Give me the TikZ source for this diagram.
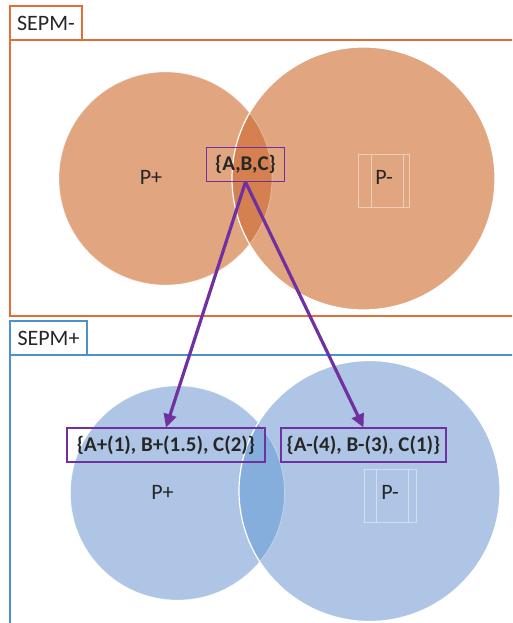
\documentclass[tikz,border=0pt]{standalone}
\usepackage{fontspec}
\setmainfont{Carlito}
\usetikzlibrary{arrows.meta}

\definecolor{sepmorange}{RGB}{226,110,55}
\definecolor{sepmblue}{RGB}{75,145,205}
\definecolor{peach}{RGB}{225,166,128}
\definecolor{peachdark}{RGB}{213,128,80}
\definecolor{skyblue}{RGB}{174,197,230}
\definecolor{skybluedark}{RGB}{133,174,220}
\definecolor{setpurple}{RGB}{112,48,160}
\definecolor{inkgray}{RGB}{38,38,38}

\tikzset{
  labeltext/.style={text=inkgray, font=\fontsize{16.5pt}{19pt}\selectfont, inner sep=0pt},
  tabbox/.style={labeltext, draw=#1, line width=0.8pt, minimum height=25.5pt, fill=white},
  setbox/.style={labeltext, font=\fontsize{15.7pt}{18pt}\selectfont\bfseries, draw=setpurple, line width=0.8pt, minimum height=25.5pt},
  setarrow/.style={draw=setpurple, line width=2.4pt, -{Triangle[length=10pt,width=9.5pt]}},
  ghostline/.style={draw=white, opacity=0.45, line width=0.6pt}
}

\begin{document}
\begin{tikzpicture}[x=0.75pt, y=-0.75pt]
\useasboundingbox (0,0) rectangle (512,623);
\clip (0,0) rectangle (512,623);

% SEPM- frame
\draw[sepmorange, line width=0.8pt] (10,40) rectangle (540,316);
\node[tabbox=sepmorange, minimum width=54pt] (tabminus) at (46,23) {SEPM-};

\fill[peach] (165.5,178.5) circle (106.5);
\fill[peach] (363.5,178.5) circle (131.5);
\begin{scope}
  \clip (165.5,178.5) circle (106.5);
  \fill[peachdark] (363.5,178.5) circle (131.5);
\end{scope}
\draw[white, line width=0.9pt] (363.5,178.5) circle (131.5);
\draw[white, opacity=0.35, line width=0.6pt] (165.5,178.5) circle (106.5);
\draw[ghostline] (358,154) rectangle (409,207) (371,154) -- (371,207) (403,154) -- (403,207);

\node[labeltext] (pplustop) at (151,177) {P+};
\node[labeltext] (pminustop) at (384,177) {P-};
\node[setbox, minimum width=59pt] (abc) at (245.5,164.5) {\{A,B,C\}};

% SEPM+ frame
\draw[sepmblue, line width=0.8pt] (10,355) rectangle (540,650);
\node[tabbox=sepmblue, minimum width=57.75pt] (tabplus) at (48.5,338) {SEPM+};

\fill[skyblue] (177.5,493) circle (107);
\fill[skyblue] (369.5,491) circle (130.5);
\begin{scope}
  \clip (177.5,493) circle (107);
  \fill[skybluedark] (369.5,491) circle (130.5);
\end{scope}
\draw[white, line width=0.9pt] (369.5,491) circle (130.5);
\draw[white, opacity=0.35, line width=0.6pt] (177.5,493) circle (107);
\draw[ghostline] (364,469) rectangle (416,522) (376,469) -- (376,522) (408,469) -- (408,522);

\node[labeltext] (pplusbot) at (162.5,492) {P+};
\node[labeltext] (pminusbot) at (390,492) {P-};
\node[setbox, minimum width=148.5pt] (plusset) at (166,445) {\{A+(1), B+(1.5), C(2)\}};
\node[setbox, minimum width=123.75pt] (minusset) at (363.5,445) {\{A-(4), B-(3), C(1)\}};

\draw[setarrow] (abc.south) -- (plusset.north);
\draw[setarrow] (abc.south) -- (minusset.north);

\end{tikzpicture}
\end{document}
